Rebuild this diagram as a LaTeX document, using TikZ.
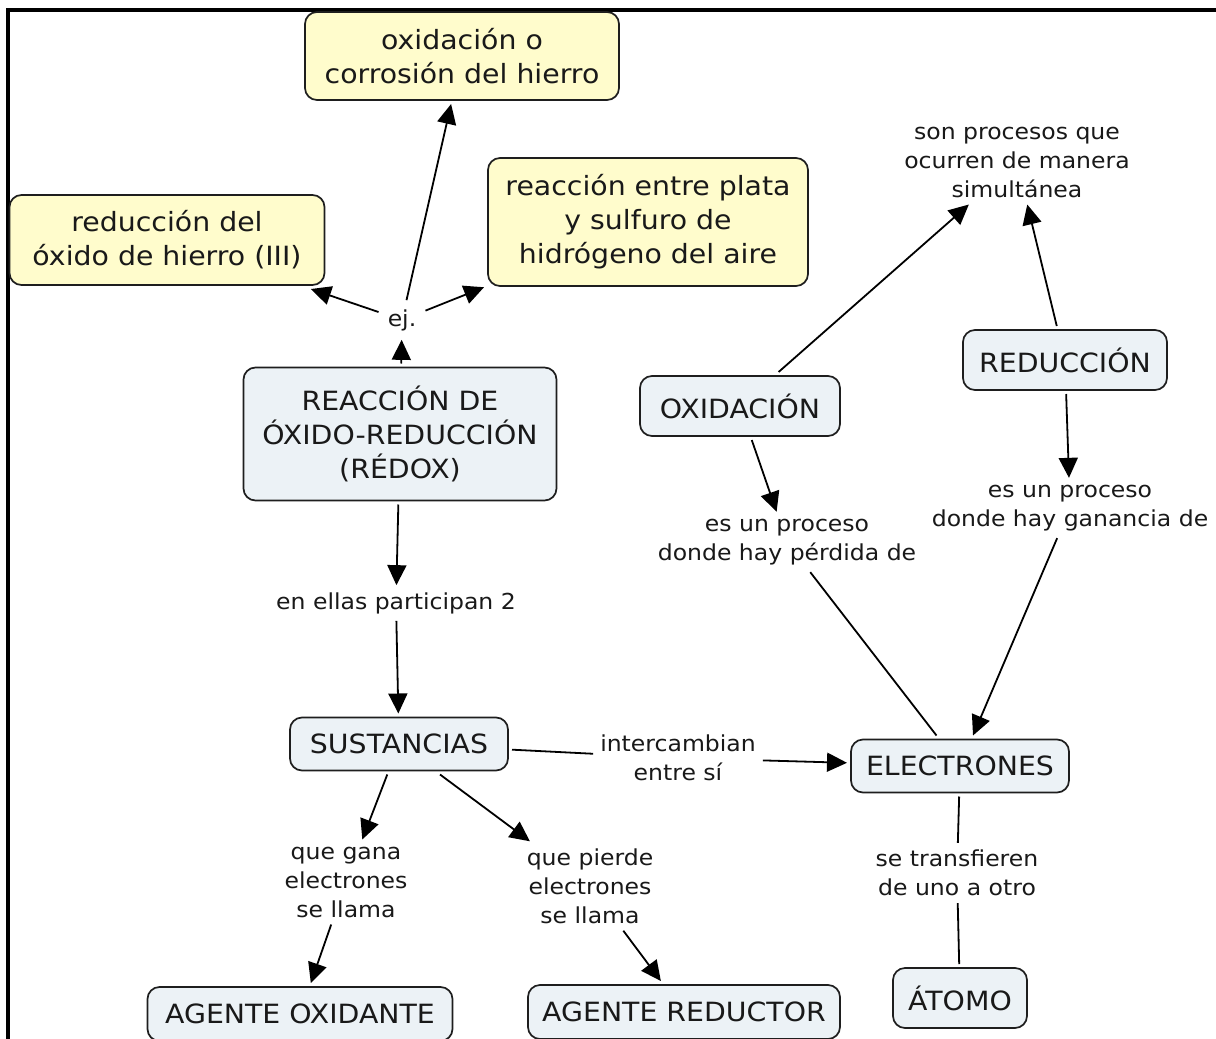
\documentclass[tikz,border=0pt]{standalone}
\usepackage{fontspec}
\setmainfont[FakeStretch=1.07]{DejaVu Sans}
\usetikzlibrary{arrows.meta}
\definecolor{bluefill}{RGB}{236,242,246}
\definecolor{yellowfill}{RGB}{255,252,204}
\definecolor{edgegray}{RGB}{30,30,30}
\definecolor{inktext}{RGB}{25,25,25}
\begin{document}
\begin{tikzpicture}[x=1pt,y=-1pt,
  concept/.style={draw=edgegray, line width=1.7pt, rounded corners=12pt,
    fill=bluefill, align=center, inner sep=0pt, outer sep=4pt,
    text=inktext, font=\fontsize{26.5}{34}\selectfont},
  example/.style={concept, fill=yellowfill},
  phrase/.style={align=center, inner sep=7pt, text=inktext,
    font=\fontsize{22}{29}\selectfont},
  link/.style={line width=1.8pt, draw=black},
  arr/.style={link, -{Triangle[length=20pt,width=19pt]}}]
\useasboundingbox (0,0) rectangle (1216,1039);
\fill[white] (0,0) rectangle (1216,1039);
% frame
\draw[line width=3.2pt] (8,1045) -- (8,10) -- (1220,10);

% examples
\node[example, minimum width=314pt, minimum height=88pt] (corr) at (462,56)
  {oxidación o\\corrosión del hierro};
\node[example, minimum width=315pt, minimum height=90pt] (redfe) at (167,240)
  {reducción del\\óxido de hierro (III)};
\node[example, minimum width=320pt, minimum height=128pt] (plata) at (648,222)
  {reacción entre plata\\y sulfuro de\\hidrógeno del aire};

% concepts
\node[concept, minimum width=313pt, minimum height=133pt] (redox) at (400,434)
  {REACCIÓN DE\\ÓXIDO-REDUCCIÓN\\(RÉDOX)};
\node[concept, minimum width=218pt, minimum height=53pt] (sust) at (399,744) {SUSTANCIAS};
\node[concept, minimum width=218pt, minimum height=53pt] (elec) at (960,766) {ELECTRONES};
\node[concept, minimum width=200pt, minimum height=60pt] (oxid) at (740,406) {OXIDACIÓN};
\node[concept, minimum width=204pt, minimum height=60pt] (redu) at (1065,360) {REDUCCIÓN};
\node[concept, minimum width=305pt, minimum height=54pt] (agox) at (300,1014) {AGENTE OXIDANTE};
\node[concept, minimum width=312pt, minimum height=54pt] (agred) at (684,1012) {AGENTE REDUCTOR};
\node[concept, minimum width=134pt, minimum height=60pt] (atomo) at (960,998) {ÁTOMO};

% linking phrases
\node[phrase, inner sep=9pt] (ej) at (402,320) {ej.};
\node[phrase] (partic) at (396,603) {en ellas participan 2};
\node[phrase] (interc) at (678,758) {intercambian\\entre sí};
\node[phrase] (gana) at (346,882) {que gana\\electrones\\se llama};
\node[phrase] (pierde) at (590,886) {que pierde\\electrones\\se llama};
\node[phrase] (transf) at (957,873) {se transfieren\\de uno a otro};
\node[phrase] (simul) at (1017,162) {son procesos que\\ocurren de manera\\simultánea};
\node[phrase] (perd) at (787,542) {es un proceso\\donde hay pérdida de};
\node[phrase] (ganan) at (1070,508) {es un proceso\\donde hay ganancia de};

% connectors
\draw[arr] (redox) -- (ej);
\draw[arr] (ej) -- (corr);
\draw[arr] (ej) -- (redfe);
\draw[arr] (ej) -- (plata);
\draw[arr] (redox) -- (partic);
\draw[arr] (partic) -- (sust);
\draw[link] (sust) -- (interc);
\draw[arr] (interc) -- (elec);
\draw[arr] (sust) -- (gana);
\draw[arr] (gana) -- (agox);
\draw[arr] (sust) -- (pierde);
\draw[arr] (pierde) -- (agred);
\draw[link] (elec) -- (transf);
\draw[link] (transf) -- (atomo);
\draw[arr] (oxid) -- (simul);
\draw[arr] (redu) -- (simul);
\draw[arr] (oxid) -- (perd);
\draw[link] (perd) -- (elec);
\draw[arr] (redu) -- (ganan);
\draw[arr] (ganan) -- (elec);
\end{tikzpicture}
\end{document}
